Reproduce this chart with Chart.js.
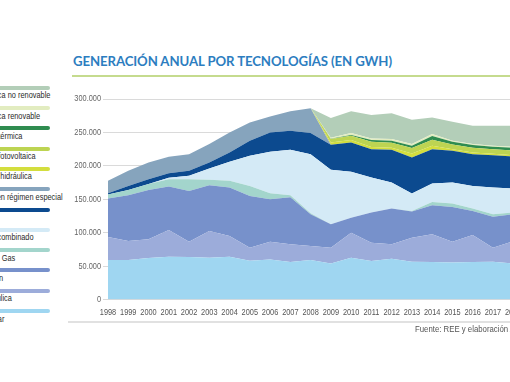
<!DOCTYPE html>
<html>
<head>
<meta charset="utf-8">
<script src="https://cdn.jsdelivr.net/npm/chart.js@4.4.1/dist/chart.umd.min.js"></script>
<style>
  html,body{margin:0;padding:0;background:#fff;}
  #wrap{position:relative;width:510px;height:382px;overflow:hidden;background:#fff;}
  #c{position:absolute;left:0;top:0;}
  #title{position:absolute;left:73px;top:52.5px;font-family:Lato,"Open Sans",sans-serif;font-weight:700;font-size:13.2px;color:#2c7dc0;white-space:nowrap;letter-spacing:-0.1px;}
  #tline{position:absolute;left:72px;top:75px;width:460px;height:1.5px;background:#c5db8e;}
  #sep{position:absolute;left:68px;top:321px;width:460px;height:2px;background:#e1e1e1;}
  #src{position:absolute;left:415px;top:323.5px;font-family:"Liberation Sans",Arial,sans-serif;font-size:9.5px;line-height:10px;color:#555;white-space:nowrap;transform:scaleX(0.82);transform-origin:0 0;}
  .lb{position:absolute;left:-40px;width:90px;height:4px;border-radius:2px;}
  .lt{position:absolute;left:-21px;font-family:"Liberation Sans",Arial,sans-serif;font-size:9px;line-height:9px;color:#2a2a2a;white-space:nowrap;transform:scaleX(0.82);transform-origin:0 0;}
</style>
</head>
<body>
<div id="wrap">
  <div id="title">GENERACIÓN ANUAL POR TECNOLOGÍAS (EN GWH)</div>
  <div id="tline"></div>
  <div id="legend"></div>
  <canvas id="c" width="560" height="382"></canvas>
  <div id="sep"></div>
  <div id="src">Fuente: REE y elaboración APPA</div>
</div>
<script>
const years = ['1998','1999','2000','2001','2002','2003','2004','2005','2006','2007','2008','2009','2010','2011','2012','2013','2014','2015','2016','2017','2018'];

// GWh
const nuclear           = [59000,59000,62000,64000,63500,62500,64000,58000,60000,56000,59000,54000,62500,57500,61000,56500,56000,55500,56000,56500,54000];
const hidraulica        = [34500,28500,28000,40000,23000,40000,31000,19500,26500,26500,21000,23500,37500,27500,21500,36000,41500,31000,40500,21000,33000];
const carbon            = [57500,68500,74000,65000,76000,68500,72500,77500,63500,70500,47500,35000,22500,45000,53500,39000,43500,52000,36000,46500,40500];
const fuelGas           = [6000,8000,9000,11000,17500,8000,10000,15000,9000,3000,1500,0,0,0,0,1000,5000,5000,3500,3500,2500];
const cicloCombinado    = [0,0,0,2000,5000,17000,28500,45000,62000,68000,88500,81500,68500,52500,39000,26000,27500,31500,34000,40000,36000];
const eolica            = [2000,6000,7000,7000,7500,9000,14000,22500,29000,28500,31500,37500,44000,42500,49000,54000,51500,47500,47500,48500,48000];
const regimenEspecial   = [18500,22500,25000,24500,25000,27500,30000,27500,24000,29000,37000,0,0,0,0,0,0,0,0,0,0];
const restoHidraulica   = [0,0,0,0,0,0,0,0,0,0,0,3500,3500,3000,3000,6000,5000,2500,2500,2000,2000];
const fotovoltaica      = [0,0,0,0,0,0,0,0,0,0,0,5000,6500,8000,7500,8000,9000,7000,7000,7000,7000];
const solarTermica      = [0,0,0,0,0,0,0,0,0,0,0,500,1000,2500,3000,3500,5500,4000,4000,3500,4000];
const termicaRenovable  = [0,0,0,0,0,0,0,0,0,0,0,1500,3000,2500,2500,2500,3000,1500,1500,1500,1500];
const termicaNoRenov    = [0,0,0,0,0,0,0,0,0,0,0,29500,32500,35000,38500,36500,25000,28500,27500,30000,31500];

const yTicks = [0,50000,100000,150000,200000,250000,300000];

const series = [
  {label:'Nuclear', data:nuclear, color:'#9fd6f1'},
  {label:'Hidráulica', data:hidraulica, color:'#9cacda'},
  {label:'Carbón', data:carbon, color:'#7791cb'},
  {label:'Fuel + Gas', data:fuelGas, color:'#a3d5cc'},
  {label:'Ciclo combinado', data:cicloCombinado, color:'#d4eaf6'},
  {label:'Eólica', data:eolica, color:'#0c4a8f'},
  {label:'Total en régimen especial', data:regimenEspecial, color:'#86a4bd'},
  {label:'Resto hidráulica', data:restoHidraulica, color:'#d3de3e'},
  {label:'Solar fotovoltaica', data:fotovoltaica, color:'#bdd452'},
  {label:'Solar térmica', data:solarTermica, color:'#2f8c50'},
  {label:'Térmica renovable', data:termicaRenovable, color:'#e2ecc0'},
  {label:'Térmica no renovable', data:termicaNoRenov, color:'#b3ceb8'}
];

// HTML legend (top-down = reverse stack order)
const leg = document.getElementById('legend');
series.slice().reverse().forEach((s,i)=>{
  const yc = 87.7 + 20.3*i;
  const b = document.createElement('div');
  b.className='lb'; b.style.top=(yc-2)+'px'; b.style.background=s.color;
  const t = document.createElement('div');
  t.className='lt'; t.style.top=(yc+8-4.5)+'px'; t.textContent=s.label;
  leg.appendChild(b); leg.appendChild(t);
});

const fmt = v => String(v).replace(/\B(?=(\d{3})+(?!\d))/g,'.');
const tickFont = '9px "Liberation Sans", Arial, sans-serif';

// condensed tick labels drawn at the scales' own tick positions
const condensedTicks = {
  id:'condensedTicks',
  afterDraw(chart){
    const ctx = chart.ctx, xs = chart.scales.x, ys = chart.scales.y;
    ctx.save();
    ctx.font = tickFont;
    ctx.textBaseline = 'middle';
    ctx.fillStyle = '#555';
    ctx.textAlign = 'center';
    xs.ticks.forEach((t,i)=>{
      ctx.save();
      ctx.translate(xs.getPixelForTick(i), xs.top + 13.5);
      ctx.scale(0.82,1);
      ctx.fillText(xs.getLabelForValue(t.value),0,0);
      ctx.restore();
    });
    ctx.fillStyle = '#666';
    ctx.textAlign = 'right';
    ys.ticks.forEach(t=>{
      ctx.save();
      ctx.translate(ys.right - 7, ys.getPixelForValue(t.value));
      ctx.scale(0.82,1);
      ctx.fillText(fmt(t.value),0,0);
      ctx.restore();
    });
    ctx.restore();
  }
};

new Chart(document.getElementById('c'), {
  type:'line',
  data:{
    labels: years,
    datasets: series.map((s,i)=>({
      label:s.label, data:s.data,
      backgroundColor:s.color, borderColor:s.color, borderWidth:0,
      pointRadius:0, tension:0,
      fill: i===0 ? 'origin' : '-1'
    }))
  },
  options:{
    responsive:false, animation:false, devicePixelRatio:1,
    layout:{padding:{left:0,right:46.8,top:99,bottom:0}},
    plugins:{legend:{display:false},tooltip:{enabled:false},filler:{propagate:false}},
    scales:{
      x:{
        grid:{display:false,drawTicks:false},
        border:{display:false},
        ticks:{display:false,maxRotation:0,autoSkip:false},
        afterFit:s=>{s.height=82.5;}
      },
      y:{
        stacked:true, min:0, max:300000, z:1,
        afterBuildTicks:s=>{s.ticks=yTicks.map(v=>({value:v}));},
        grid:{color:'rgba(205,205,205,0.75)',lineWidth:1,tickLength:5},
        border:{display:false},
        ticks:{display:false},
        afterFit:s=>{s.width=108;}
      }
    }
  },
  plugins:[condensedTicks]
});
</script>
</body>
</html>
